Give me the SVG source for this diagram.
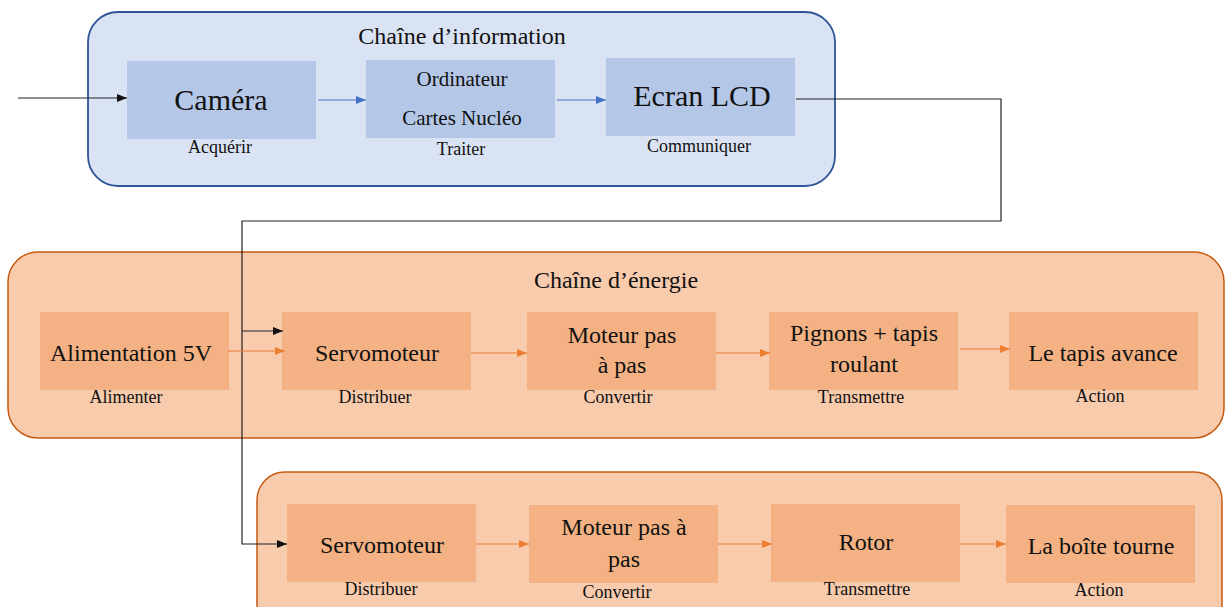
<svg xmlns="http://www.w3.org/2000/svg" width="1225" height="607" viewBox="0 0 1225 607">
<style>
text{font-family:'Liberation Serif','Tinos','DejaVu Serif',serif;fill:#111;text-anchor:middle}
.t{font-size:24px}
.big{font-size:30px}
.mid{font-size:24px}
.sm{font-size:21px}
.lbl{font-size:18px}
.ci{fill:#DAE3F3;stroke:#2F5597;stroke-width:1.8}
.ce{fill:#F8CBAD;stroke:#C55A11;stroke-width:1.5}
.bi{fill:#B4C7E7}
.be{fill:#F4B183}
.k{fill:none;stroke:#222;stroke-width:1.2}
.b{fill:none;stroke:#4472C4;stroke-width:1.2}
.o{fill:none;stroke:#ED7D31;stroke-width:1.2}
</style>
<defs>
<marker id="ak" markerWidth="10" markerHeight="8" refX="10" refY="4" orient="auto" markerUnits="userSpaceOnUse"><path d="M0,0 L10,4 L0,8 Z" fill="#111"/></marker>
<marker id="ab" markerWidth="10" markerHeight="8" refX="10" refY="4" orient="auto" markerUnits="userSpaceOnUse"><path d="M0,0 L10,4 L0,8 Z" fill="#4472C4"/></marker>
<marker id="ao" markerWidth="10" markerHeight="8" refX="10" refY="4" orient="auto" markerUnits="userSpaceOnUse"><path d="M0,0 L10,4 L0,8 Z" fill="#ED7D31"/></marker>
</defs>

<g id="chaine-information">
<rect class="ci" x="88" y="12" width="747" height="174" rx="30"/>
<text class="t" x="462" y="44">Chaîne d’information</text>
</g>
<g id="chaine-energie">
<rect class="ce" x="8" y="252" width="1216" height="186" rx="30"/>
<text class="t" x="616" y="288">Chaîne d’énergie</text>
</g>
<g id="chaine-rotation">
<rect class="ce" x="257" y="472" width="965" height="160" rx="28"/>
</g>

<g id="camera">
<rect class="bi" x="127" y="61" width="189" height="78"/>
<text class="big" x="221" y="110">Caméra</text>
<text class="lbl" x="220" y="153">Acquérir</text>
</g>
<g id="ordinateur">
<rect class="bi" x="366" y="60" width="189" height="78"/>
<text class="sm" x="462" y="86">Ordinateur</text>
<text class="sm" x="462" y="125">Cartes Nucléo</text>
<text class="lbl" x="461" y="155">Traiter</text>
</g>
<g id="ecran">
<rect class="bi" x="606" y="58" width="189" height="78"/>
<text class="big" x="702" y="106">Ecran LCD</text>
<text class="lbl" x="699" y="152">Communiquer</text>
</g>

<g id="alimentation">
<rect class="be" x="40" y="312" width="189" height="78"/>
<text class="mid" x="131" y="361">Alimentation 5V</text>
<text class="lbl" x="126" y="403">Alimenter</text>
</g>
<g id="servomoteur1">
<rect class="be" x="282" y="312" width="189" height="78"/>
<text class="mid" x="377" y="361">Servomoteur</text>
<text class="lbl" x="375" y="403">Distribuer</text>
</g>
<g id="moteur1">
<rect class="be" x="527" y="312" width="189" height="78"/>
<text class="mid" x="622" y="343">Moteur pas</text>
<text class="mid" x="622" y="373">à pas</text>
<text class="lbl" x="618" y="403">Convertir</text>
</g>
<g id="pignons">
<rect class="be" x="769" y="312" width="189" height="78"/>
<text class="mid" x="864" y="341">Pignons + tapis</text>
<text class="mid" x="864" y="372">roulant</text>
<text class="lbl" x="861" y="403">Transmettre</text>
</g>
<g id="tapis">
<rect class="be" x="1009" y="312" width="189" height="78"/>
<text class="mid" x="1103" y="361">Le tapis avance</text>
<text class="lbl" x="1100" y="402">Action</text>
</g>

<g id="servomoteur2">
<rect class="be" x="287" y="504" width="189" height="78"/>
<text class="mid" x="382" y="553">Servomoteur</text>
<text class="lbl" x="381" y="595">Distribuer</text>
</g>
<g id="moteur2">
<rect class="be" x="529" y="505" width="189" height="78"/>
<text class="mid" x="624" y="535">Moteur pas à</text>
<text class="mid" x="624" y="567">pas</text>
<text class="lbl" x="617" y="598">Convertir</text>
</g>
<g id="rotor">
<rect class="be" x="771" y="504" width="189" height="78"/>
<text class="mid" x="866" y="550">Rotor</text>
<text class="lbl" x="867" y="595">Transmettre</text>
</g>
<g id="boite">
<rect class="be" x="1006" y="505" width="189" height="78"/>
<text class="mid" x="1101" y="554">La boîte tourne</text>
<text class="lbl" x="1099" y="596">Action</text>
</g>

<g id="connectors">
<line class="k" x1="18" y1="98" x2="127" y2="98" marker-end="url(#ak)"/>
<line class="b" x1="318" y1="100" x2="366" y2="100" marker-end="url(#ab)"/>
<line class="b" x1="557" y1="100" x2="606" y2="100" marker-end="url(#ab)"/>
<polyline class="k" points="796,99 1001,99 1001,221 242,221 242,544 287,544" marker-end="url(#ak)"/>
<line class="k" x1="242" y1="331" x2="283" y2="331" marker-end="url(#ak)"/>
<line class="o" x1="228" y1="351" x2="285" y2="351" marker-end="url(#ao)"/>
<line class="o" x1="471" y1="353" x2="527" y2="353" marker-end="url(#ao)"/>
<line class="o" x1="716" y1="353" x2="770" y2="353" marker-end="url(#ao)"/>
<line class="o" x1="960" y1="349" x2="1010" y2="349" marker-end="url(#ao)"/>
<line class="o" x1="476" y1="544" x2="529" y2="544" marker-end="url(#ao)"/>
<line class="o" x1="718" y1="544" x2="772" y2="544" marker-end="url(#ao)"/>
<line class="o" x1="960" y1="544" x2="1006" y2="544" marker-end="url(#ao)"/>
</g>
</svg>
